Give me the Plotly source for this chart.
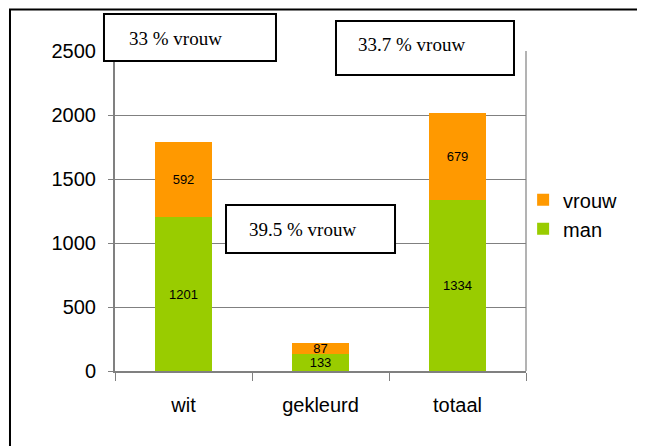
import plotly.graph_objects as go

categories = ["wit", "gekleurd", "totaal"]
man = [1201, 133, 1334]
vrouw = [592, 87, 679]
y_ticks = [0, 500, 1000, 1500, 2000, 2500]
notes = ["33 % vrouw", "33.7 % vrouw", "39.5 % vrouw"]

GREEN = "#99CC00"
ORANGE = "#FF9900"
AXIS = "#808080"
SANS = "Liberation Sans, Arial, sans-serif"
SERIF = "Liberation Serif, Times New Roman, serif"

fig = go.Figure()
for name, vals, col in [("man", man, GREEN), ("vrouw", vrouw, ORANGE)]:
    fig.add_trace(go.Bar(
        x=categories, y=vals, name=name,
        marker=dict(color=col, line=dict(width=0)),
        width=0.41,
        text=[str(v) for v in vals],
        textposition="inside", insidetextanchor="middle",
        constraintext="none", textangle=0,
        textfont=dict(family=SANS, size=13, color="black"),
        hoverinfo="skip",
    ))

# note boxes (paper coords): (x0, y0, x1, y1, text_x, text_y)
boxes = [
    (-0.0268, 0.96875, 0.3917, 1.1156, 0.0292, 1.04),
    (0.5377, 0.925, 0.9708, 1.09375, 0.5864, 1.01875),
    (0.2701, 0.36875, 0.6813, 0.51875, 0.3212, 0.44375),
]
shapes = [
    # outer chart frame
    dict(type="rect", xref="paper", yref="paper", x0=-0.2555, y0=-0.35,
         x1=1.35, y1=1.1297, line=dict(color="black", width=2),
         fillcolor="rgba(0,0,0,0)", layer="above"),
    # right plot border
    dict(type="line", xref="paper", yref="paper", x0=1, x1=1, y0=0, y1=1,
         line=dict(color="#b3b3b3", width=2), layer="below"),
]
annotations = []
for (x0, y0, x1, y1, tx, ty), t in zip(boxes, notes):
    shapes.append(dict(type="rect", xref="paper", yref="paper", x0=x0, y0=y0,
                       x1=x1, y1=y1, line=dict(color="black", width=2),
                       fillcolor="white", layer="above"))
    annotations.append(dict(xref="paper", yref="paper", x=tx, y=ty, text=t,
                            showarrow=False, xanchor="left", yanchor="middle",
                            font=dict(family=SERIF, size=19, color="black")))

fig.update_layout(
    width=637, height=438,
    margin=dict(l=107, r=119, t=43, b=75, pad=0),
    paper_bgcolor="white", plot_bgcolor="white",
    barmode="stack",
    showlegend=True,
    legend=dict(x=0.993, y=0.49, xanchor="left", yanchor="middle",
                traceorder="reversed", bgcolor="rgba(0,0,0,0)",
                font=dict(family=SANS, size=20, color="black"),
                itemwidth=30),
    xaxis=dict(type="category", range=[-0.5, 2.5], tickson="boundaries",
               ticks="outside", ticklen=8, tickcolor=AXIS, tickwidth=1,
               showline=True, linecolor=AXIS, linewidth=2, showgrid=False,
               tickfont=dict(family=SANS, size=20, color="black"),
               ticklabelstandoff=15),
    yaxis=dict(range=[0, 2500], tickvals=y_ticks, ticks="outside", ticklen=5,
               tickcolor=AXIS, showline=True, linecolor=AXIS, linewidth=2,
               showgrid=True, gridcolor=AXIS, gridwidth=1, zeroline=False,
               tickfont=dict(family=SANS, size=20, color="black"),
               ticklabelstandoff=8),
    shapes=shapes,
    annotations=annotations,
)

fig.write_html("out.html")
